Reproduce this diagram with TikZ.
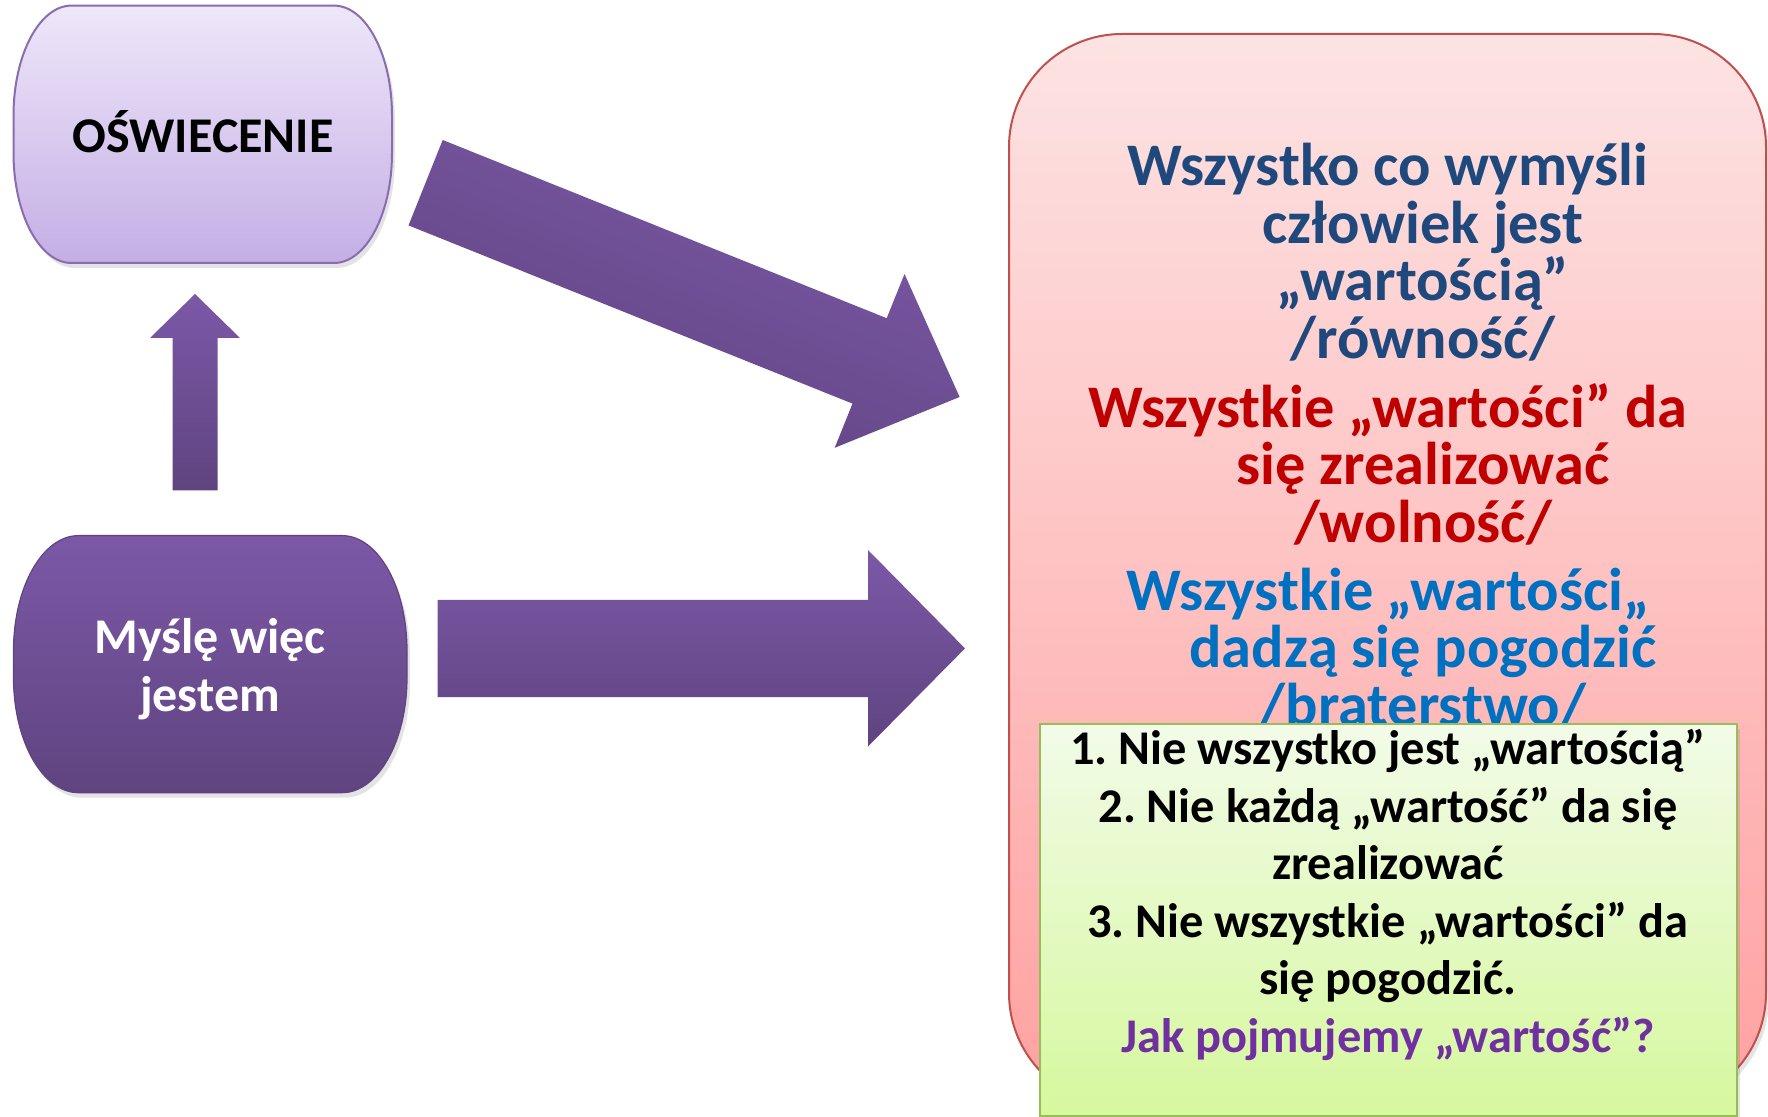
\documentclass[tikz,border=0pt]{standalone}
\usepackage{fontspec}
\setmainfont{Carlito}
\usetikzlibrary{shadows}
\frenchspacing
\definecolor{lavtop}{HTML}{EEE7F9}
\definecolor{lavbot}{HTML}{C4AEE5}
\definecolor{lavline}{HTML}{8A6DB0}
\definecolor{purtop}{HTML}{7C58A7}
\definecolor{purbot}{HTML}{5F4480}
\definecolor{pinktop}{HTML}{FDE3E3}
\definecolor{pinkbot}{HTML}{FFA1A1}
\definecolor{redline}{HTML}{C0504D}
\definecolor{greentop}{HTML}{F2FBE8}
\definecolor{greenbot}{HTML}{D6F89E}
\definecolor{greenline}{HTML}{9BBB59}
\definecolor{tdblue}{HTML}{1F497D}
\definecolor{tred}{HTML}{C00000}
\definecolor{tblue}{HTML}{0070C0}
\definecolor{tpurple}{HTML}{7030A0}
\tikzset{
  softshadow/.style={drop shadow={opacity=0.18, shadow xshift=1.5pt, shadow yshift=-2.5pt, fill=black!60}},
  lavbox/.style={draw=lavline, line width=1pt, top color=lavtop, bottom color=lavbot, softshadow},
  purbox/.style={draw=purbot, line width=0.6pt, top color=purtop, bottom color=purbot, softshadow},
  blockarrow/.style={top color=purtop, bottom color=purbot},
  leftlbl/.style={font=\bfseries\fontsize{25pt}{28.75pt}\selectfont, align=center, inner sep=0pt},
  bigtxt/.style={font=\bfseries\fontsize{30.2pt}{28.75pt}\selectfont, align=center, inner sep=0pt},
  listtxt/.style={font=\bfseries\fontsize{24.2pt}{28.75pt}\selectfont, align=center, inner sep=0pt},
}
\begin{document}
\begin{tikzpicture}[x=0.5pt,y=0.5pt]
\useasboundingbox (0,0) rectangle (1768,-1117);
\fill[white] (0,0) rectangle (1768,-1117);

% OSWIECENIE box
\path[lavbox] (71.5,-5.6) -- (334,-5.6)
  arc[start angle=90,end angle=0,x radius=29pt,y radius=55pt] -- (392,-153)
  arc[start angle=0,end angle=-90,x radius=29pt,y radius=55pt] -- (71.5,-263)
  arc[start angle=270,end angle=180,x radius=29pt,y radius=55pt] -- (13.5,-115.6)
  arc[start angle=180,end angle=90,x radius=29pt,y radius=55pt] -- cycle;
\node[leftlbl] (osw) at (203,-131.5) {OŚWIECENIE};

% Mysle box
\path[purbox] (78.5,-535.6) -- (342,-535.6)
  arc[start angle=90,end angle=0,x radius=32.5pt,y radius=57.5pt] -- (407,-677.7)
  arc[start angle=0,end angle=-90,x radius=32.5pt,y radius=57.5pt] -- (78.5,-792.7)
  arc[start angle=270,end angle=180,x radius=32.5pt,y radius=57.5pt] -- (13.5,-650.6)
  arc[start angle=180,end angle=90,x radius=32.5pt,y radius=57.5pt] -- cycle;
\node[leftlbl, text=white] (mys) at (210,-669) {Myślę więc\\jestem};

% up arrow
\path[blockarrow] (172.5,-490.5) -- (172.5,-338) -- (150,-338) -- (195,-294)
  -- (240,-338) -- (217.6,-338) -- (217.6,-490.5) -- cycle;

% horizontal arrow
\path[blockarrow] (437.5,-600) -- (868,-600) -- (868,-550) -- (965,-648.4)
  -- (868,-746.5) -- (868,-697) -- (437.5,-697) -- cycle;

% diagonal arrow
\path[blockarrow, shading angle=-21.86] (442.7,-140) -- (886.7,-318.2) -- (904.5,-274) -- (959.6,-397)
  -- (834.7,-447.8) -- (852.5,-403.6) -- (408.5,-225.4) -- cycle;

% red rounded box
\path[draw=redline, line width=1pt, top color=pinktop, bottom color=pinkbot, rounded corners=56.5pt, softshadow]
  (1009,-34) rectangle (1766,-1106);

\node[bigtxt, text=tdblue] (p1) at (1388,-252)
  {Wszystko co wymyśli\\\hspace*{35pt}człowiek jest\\\hspace*{35pt}„wartością”\\\hspace*{35pt}/równość/};
\node[bigtxt, text=tred] (p2) at (1388,-464)
  {Wszystkie „wartości” da\\\hspace*{35pt}się zrealizować\\\hspace*{35pt}/wolność/};
\node[bigtxt, text=tblue] (p3) at (1388,-648)
  {Wszystkie „wartości„\\\hspace*{35pt}dadzą się pogodzić\\\hspace*{35pt}/braterstwo/};

% green box
\path[draw=greenline, line width=1pt, top color=greentop, bottom color=greenbot, softshadow]
  (1040,-724) rectangle (1737,-1116);
\node[listtxt] (list) at (1388,-895)
  {1. Nie wszystko jest „wartością”\\2. Nie każdą „wartość” da się\\zrealizować\\3. Nie wszystkie „wartości” da\\się pogodzić.\\\textcolor{tpurple}{Jak pojmujemy „wartość”?}};
\end{tikzpicture}
\end{document}
